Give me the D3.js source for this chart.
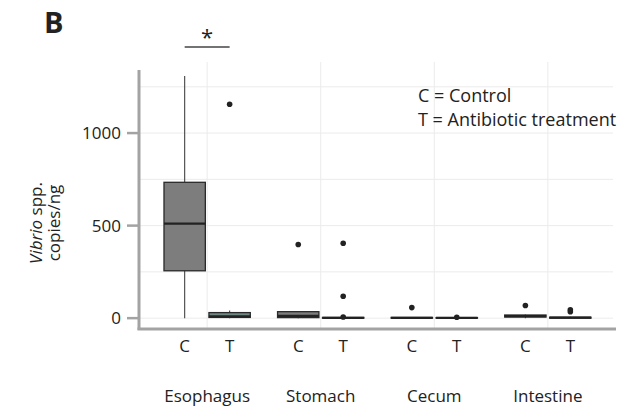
<!DOCTYPE html>
<html>
<head>
<meta charset="utf-8">
<script src="https://cdn.jsdelivr.net/npm/d3@7"></script>
<style>
  body { margin: 0; background: #fff; }
  text { font-family: "Open Sans", Lato, sans-serif; fill: #222; }
</style>
</head>
<body>
<div id="chart"></div>
<script>
var width = 621
var height = 407

// data
var organs = ["Esophagus", "Stomach", "Cecum", "Intestine"]
var treatments = ["C", "T"]
// one entry per box, organ by organ, C then T
var boxOrgan = ["Esophagus", "Esophagus", "Stomach", "Stomach", "Cecum", "Cecum", "Intestine", "Intestine"]
var boxTreat = ["C", "T", "C", "T", "C", "T", "C", "T"]
var whiskerLo = [0, 0, 0, 0, 0, 0, 0, 0]
var q1 = [256, 4, 3, 0, 0, 0, 6, 0]
var median = [511, 10, 12, 2, 2, 1, 11, 3]
var q3 = [734, 30, 35, 4, 4, 3, 17, 5]
var whiskerHi = [1308, 42, 38, 6, 6, 4, 20, 7]
var outliers = [[], [1156], [398], [405, 118, 6], [57], [5], [68], [45, 35]]
var yTicks = [0, 500, 1000]
var yGrid = [0, 250, 500, 750, 1000, 1250]

var margin = { top: 62, left: 139, bottom: 77, right: 5 }
var plotW = width - margin.left - margin.right
var plotH = height - margin.top - margin.bottom

var svg = d3.select("#chart").append("svg")
    .attr("width", width)
    .attr("height", height)

var x = d3.scalePoint()
    .domain(organs)
    .range([margin.left, margin.left + plotW])
    .padding(0.6)

var dodge = x.step() * 0.76
var xt = d3.scaleBand()
    .domain(treatments)
    .range([-dodge / 2, dodge / 2])
    .paddingInner(0.08)

var y = d3.scaleLinear()
    .domain([-64, 1384])
    .range([margin.top + plotH, margin.top])

var fills = { C: "#7d7d7d", T: "#6f8783" }
var fs = "17px"

// grid
svg.append("g").selectAll("line.h")
  .data(yGrid)
  .enter().append("line")
    .attr("x1", margin.left)
    .attr("x2", margin.left + plotW - 3)
    .attr("y1", d => y(d))
    .attr("y2", d => y(d))
    .attr("stroke", "#ebebeb")
    .attr("stroke-width", 1)

svg.append("g").selectAll("line.v")
  .data(organs)
  .enter().append("line")
    .attr("x1", d => x(d))
    .attr("x2", d => x(d))
    .attr("y1", margin.top)
    .attr("y2", margin.top + plotH)
    .attr("stroke", "#ebebeb")
    .attr("stroke-width", 1)

// boxes
var boxes = svg.append("g").selectAll("g.box")
  .data(d3.range(boxOrgan.length))
  .enter().append("g")
    .attr("transform", i => "translate(" + (x(boxOrgan[i]) + xt(boxTreat[i])) + ",0)")

var bw = xt.bandwidth()

boxes.append("line")
    .attr("x1", bw / 2).attr("x2", bw / 2)
    .attr("y1", i => y(whiskerHi[i]))
    .attr("y2", i => y(q3[i]))
    .attr("stroke", "#444").attr("stroke-width", 1.1)
boxes.append("line")
    .attr("x1", bw / 2).attr("x2", bw / 2)
    .attr("y1", i => y(q1[i]))
    .attr("y2", i => y(whiskerLo[i]))
    .attr("stroke", "#444").attr("stroke-width", 1.1)

boxes.append("rect")
    .attr("x", 0)
    .attr("width", bw)
    .attr("y", i => y(q3[i]))
    .attr("height", i => Math.max(0.5, y(q1[i]) - y(q3[i])))
    .attr("fill", i => fills[boxTreat[i]])
    .attr("stroke", "#2a2a2a")
    .attr("stroke-width", 1.3)

boxes.append("line")
    .attr("x1", 0).attr("x2", bw)
    .attr("y1", i => y(median[i]))
    .attr("y2", i => y(median[i]))
    .attr("stroke", "#222").attr("stroke-width", 2.2)

boxes.selectAll("circle")
  .data(i => outliers[i])
  .enter().append("circle")
    .attr("cx", bw / 2)
    .attr("cy", d => y(d))
    .attr("r", 2.8)
    .attr("fill", "#222")

// axes
var axisCol = "#a3a3a3"
svg.append("line")
    .attr("x1", margin.left).attr("x2", margin.left)
    .attr("y1", margin.top + 8).attr("y2", margin.top + plotH)
    .attr("stroke", axisCol).attr("stroke-width", 3)
svg.append("line")
    .attr("x1", margin.left - 1.5).attr("x2", margin.left + plotW)
    .attr("y1", margin.top + plotH - 1).attr("y2", margin.top + plotH - 1)
    .attr("stroke", axisCol).attr("stroke-width", 3)

var yt = svg.append("g").selectAll("g")
  .data(yTicks)
  .enter().append("g")
    .attr("transform", d => "translate(0," + y(d) + ")")
yt.append("line")
    .attr("x1", margin.left - 12).attr("x2", margin.left)
    .attr("stroke", axisCol).attr("stroke-width", 2.5)
yt.append("text")
    .attr("x", margin.left - 18)
    .attr("dy", "0.35em")
    .attr("text-anchor", "end")
    .style("font-size", fs)
    .text(d => d)

// x labels
svg.append("g").selectAll("text")
  .data(d3.range(boxOrgan.length))
  .enter().append("text")
    .attr("x", i => x(boxOrgan[i]) + xt(boxTreat[i]) + bw / 2)
    .attr("y", 352)
    .attr("text-anchor", "middle")
    .style("font-size", fs)
    .text(i => boxTreat[i])

svg.append("g").selectAll("text")
  .data(organs)
  .enter().append("text")
    .attr("x", d => x(d))
    .attr("y", 402)
    .attr("text-anchor", "middle")
    .style("font-size", fs)
    .text(d => d)

// y title
var yl = svg.append("text")
    .attr("transform", "translate(42,223) rotate(-90)")
    .attr("text-anchor", "middle")
    .style("font-size", fs)
yl.append("tspan").style("font-style", "italic").text("Vibrio")
yl.append("tspan").text(" spp.")
svg.append("text")
    .attr("transform", "translate(60,223) rotate(-90)")
    .attr("text-anchor", "middle")
    .style("font-size", fs)
    .text("copies/ng")

// legend text
svg.append("text").attr("x", 418).attr("y", 102)
    .style("font-size", "18px").text("C = Control")
svg.append("text").attr("x", 418).attr("y", 126)
    .style("font-size", "18px").text("T = Antibiotic treatment")

// panel letter + significance
svg.append("text").attr("x", 44).attr("y", 33)
    .style("font-size", "29px").style("font-weight", "bold").text("B")
var c1 = x("Esophagus") + xt("C") + bw / 2
var c2 = x("Esophagus") + xt("T") + bw / 2
svg.append("line")
    .attr("x1", c1).attr("x2", c2)
    .attr("y1", 47).attr("y2", 47)
    .attr("stroke", "#444").attr("stroke-width", 1.5)
svg.append("text")
    .attr("x", (c1 + c2) / 2).attr("y", 45)
    .attr("text-anchor", "middle")
    .style("font-size", "22px")
    .text("*")
</script>
</body>
</html>
